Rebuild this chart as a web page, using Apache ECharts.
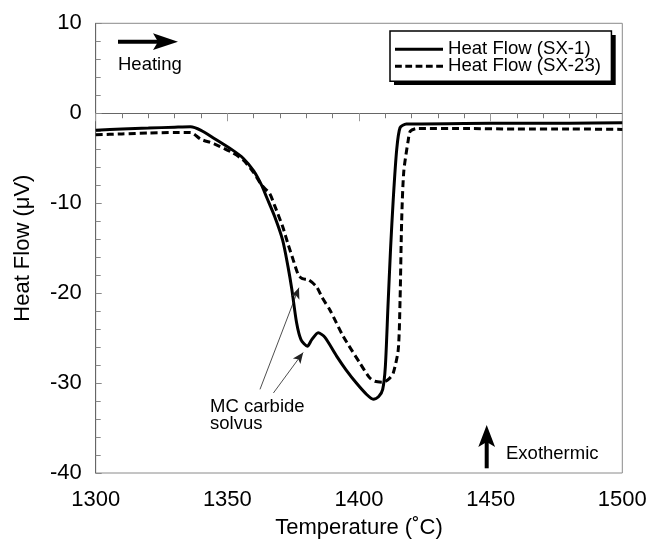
<!DOCTYPE html>
<html>
<head>
<meta charset="utf-8">
<script src="https://cdn.jsdelivr.net/npm/echarts@6/dist/echarts.min.js"></script>
<style>html,body{margin:0;padding:0;background:#fff}#c{width:651px;height:544px}</style>
</head>
<body>
<div id="c"></div>
<script>
// Temperature (°C) and heat flow (µV)
var sx1Temp = [1300,1310,1320,1330,1336,1340,1345,1352,1356,1360,1363,1365,1368,1371,1373,1374.5,1376.3,1378,1380.4,1382,1384.5,1387,1391.5,1395,1399,1403,1405.4,1407.5,1409,1410,1411,1412,1413,1414.3,1415.6,1418,1440,1460,1480,1500];
var sx1Flow = [-1.9,-1.75,-1.65,-1.55,-1.5,-1.9,-2.8,-4.1,-5.0,-6.4,-8.0,-9.4,-11.5,-14.1,-17.0,-19.6,-23.3,-25.2,-25.9,-25.2,-24.4,-24.9,-27.0,-28.5,-30.0,-31.3,-31.8,-31.5,-30.7,-28.2,-21.5,-15.0,-9.6,-4.1,-1.6,-1.2,-1.15,-1.1,-1.1,-1.05];
var sx23Temp = [1300,1310,1320,1330,1336,1340,1345,1352,1356,1360,1363,1366,1368,1371,1373,1375,1377,1378.5,1380.7,1383.9,1386,1389,1394,1400.4,1404,1406,1409.2,1411.5,1413,1414.9,1415.6,1416.2,1417,1418.7,1419.5,1422,1440,1460,1480,1500];
var sx23Flow = [-2.4,-2.3,-2.2,-2.15,-2.15,-2.9,-3.4,-4.4,-5.2,-6.6,-8.0,-8.9,-10.3,-12.6,-14.5,-16.3,-18.0,-18.4,-18.5,-19.3,-20.5,-21.9,-24.8,-27.8,-29.4,-29.8,-29.9,-29.5,-28.9,-26.3,-20.7,-12.0,-6.5,-3.0,-2.0,-1.7,-1.7,-1.75,-1.75,-1.8];
var seriesNames = ['Heat Flow (SX-1)', 'Heat Flow (SX-23)'];
var xTicks = {min: 1300, max: 1500, step: 50};
var yTicks = {min: -40, max: 10, step: 10};
// annotation arrows (data coords): [start, tip]
var carbideArrows = [
  [[1362.4, -30.7], [1377.2, -19.4]],
  [[1367.5, -31.1], [1378.8, -26.6]]
];

function zip(a, b) { return a.map(function (v, i) { return [v, b[i]]; }); }

var FONT = '"Liberation Sans", Arial, Helvetica, sans-serif';
var solidIcon = 'path://M0,0L48,0L48,3L0,3Z';
var dashedIcon = 'path://M0,0h6.8v3h-6.8zM10.3,0h6.8v3h-6.8zM20.6,0h6.8v3h-6.8zM30.9,0h6.8v3h-6.8zM41.2,0h6.8v3h-6.8z';

var chart = echarts.init(document.getElementById('c'), null, {renderer: 'canvas'});
chart.setOption({
  animation: false,
  backgroundColor: '#fff',
  textStyle: {fontFamily: FONT, color: '#000'},
  grid: {left: 95.7, right: 28.7, top: 23.3, bottom: 70.7, show: true, borderColor: '#8a8a8a', borderWidth: 1, backgroundColor: 'transparent'},
  legend: {
    orient: 'vertical', left: 390, top: 31,
    padding: [8.7, 10.5, 5.6, 5],
    itemWidth: 48, itemHeight: 3, itemGap: -2,
    backgroundColor: '#fff', borderColor: '#000', borderWidth: 1.5,
    z: 10,
    itemStyle: {color: '#000', borderWidth: 0},
    textStyle: {fontSize: 18.6, fontFamily: FONT, color: '#000'},
    data: [
      {name: seriesNames[0], icon: solidIcon},
      {name: seriesNames[1], icon: dashedIcon}
    ]
  },
  xAxis: {
    type: 'value', min: xTicks.min, max: xTicks.max, interval: xTicks.step,
    name: 'Temperature (˚C)', nameLocation: 'middle', nameGap: 44,
    nameTextStyle: {fontSize: 22, fontFamily: FONT, color: '#000'},
    axisLine: {lineStyle: {color: '#666', width: 1}},
    axisTick: {inside: false, length: 8, lineStyle: {color: '#999'}},
    minorTick: {show: true, splitNumber: 5, length: 5, lineStyle: {color: '#777'}},
    axisLabel: {fontSize: 22, margin: 16, color: '#000', fontFamily: FONT, formatter: function (v) { return String(v); }},
    splitLine: {show: false}
  },
  yAxis: {
    type: 'value', min: yTicks.min, max: yTicks.max, interval: yTicks.step,
    name: 'Heat Flow (μV)', nameLocation: 'middle', nameGap: 62, nameRotate: 90,
    nameTextStyle: {fontSize: 22, fontFamily: FONT, color: '#000'},
    axisLine: {lineStyle: {color: '#666', width: 1}},
    axisTick: {inside: true, length: 6, lineStyle: {color: '#888'}},
    minorTick: {show: true, splitNumber: 5, length: 5, lineStyle: {color: '#888'}},
    axisLabel: {fontSize: 22, margin: 14, color: '#000', fontFamily: FONT, formatter: function (v) { return String(v); }},
    splitLine: {show: false}
  },
  series: [
    {
      name: seriesNames[0], type: 'line', data: zip(sx1Temp, sx1Flow),
      showSymbol: false, symbol: 'none', smooth: 0.25,
      lineStyle: {color: '#000', width: 3}, itemStyle: {color: '#000'},
      z: 3,
      markLine: {
        silent: true, symbol: ['none', 'arrow'], symbolSize: [7, 11],
        label: {show: false},
        lineStyle: {color: '#222', width: 0.8, type: 'solid'},
        emphasis: {disabled: true},
        data: carbideArrows.map(function (a) { return [{coord: a[0]}, {coord: a[1]}]; })
      }
    },
    {
      name: seriesNames[1], type: 'line', data: zip(sx23Temp, sx23Flow),
      showSymbol: false, symbol: 'none', smooth: 0.25,
      lineStyle: {color: '#000', width: 3, type: [7, 4]}, itemStyle: {color: '#000'},
      z: 2
    }
  ],
  graphic: [
    {type: 'rect', z: 5, shape: {x: 394, y: 35, width: 221.7, height: 50}, style: {fill: '#000'}},
    {type: 'line', shape: {x1: 118, y1: 41.7, x2: 160, y2: 41.7}, style: {stroke: '#000', lineWidth: 4}},
    {type: 'polygon', shape: {points: [[178, 41.7], [153, 33.3], [158, 41.7], [153, 50]]}, style: {fill: '#000'}},
    {type: 'text', left: 118, top: 55, style: {text: 'Heating', font: '18.5px ' + FONT, fill: '#000'}},
    {type: 'line', shape: {x1: 486.7, y1: 468.3, x2: 486.7, y2: 440}, style: {stroke: '#000', lineWidth: 4}},
    {type: 'polygon', shape: {points: [[486.7, 425], [478.3, 447], [486.7, 442], [495.1, 447]]}, style: {fill: '#000'}},
    {type: 'text', left: 506, top: 444, style: {text: 'Exothermic', font: '18.5px ' + FONT, fill: '#000'}},
    {type: 'text', left: 210, top: 397, style: {text: 'MC carbide\nsolvus', font: '18.5px ' + FONT, fill: '#000', lineHeight: 17.3}}
  ]
});
</script>
</body>
</html>
